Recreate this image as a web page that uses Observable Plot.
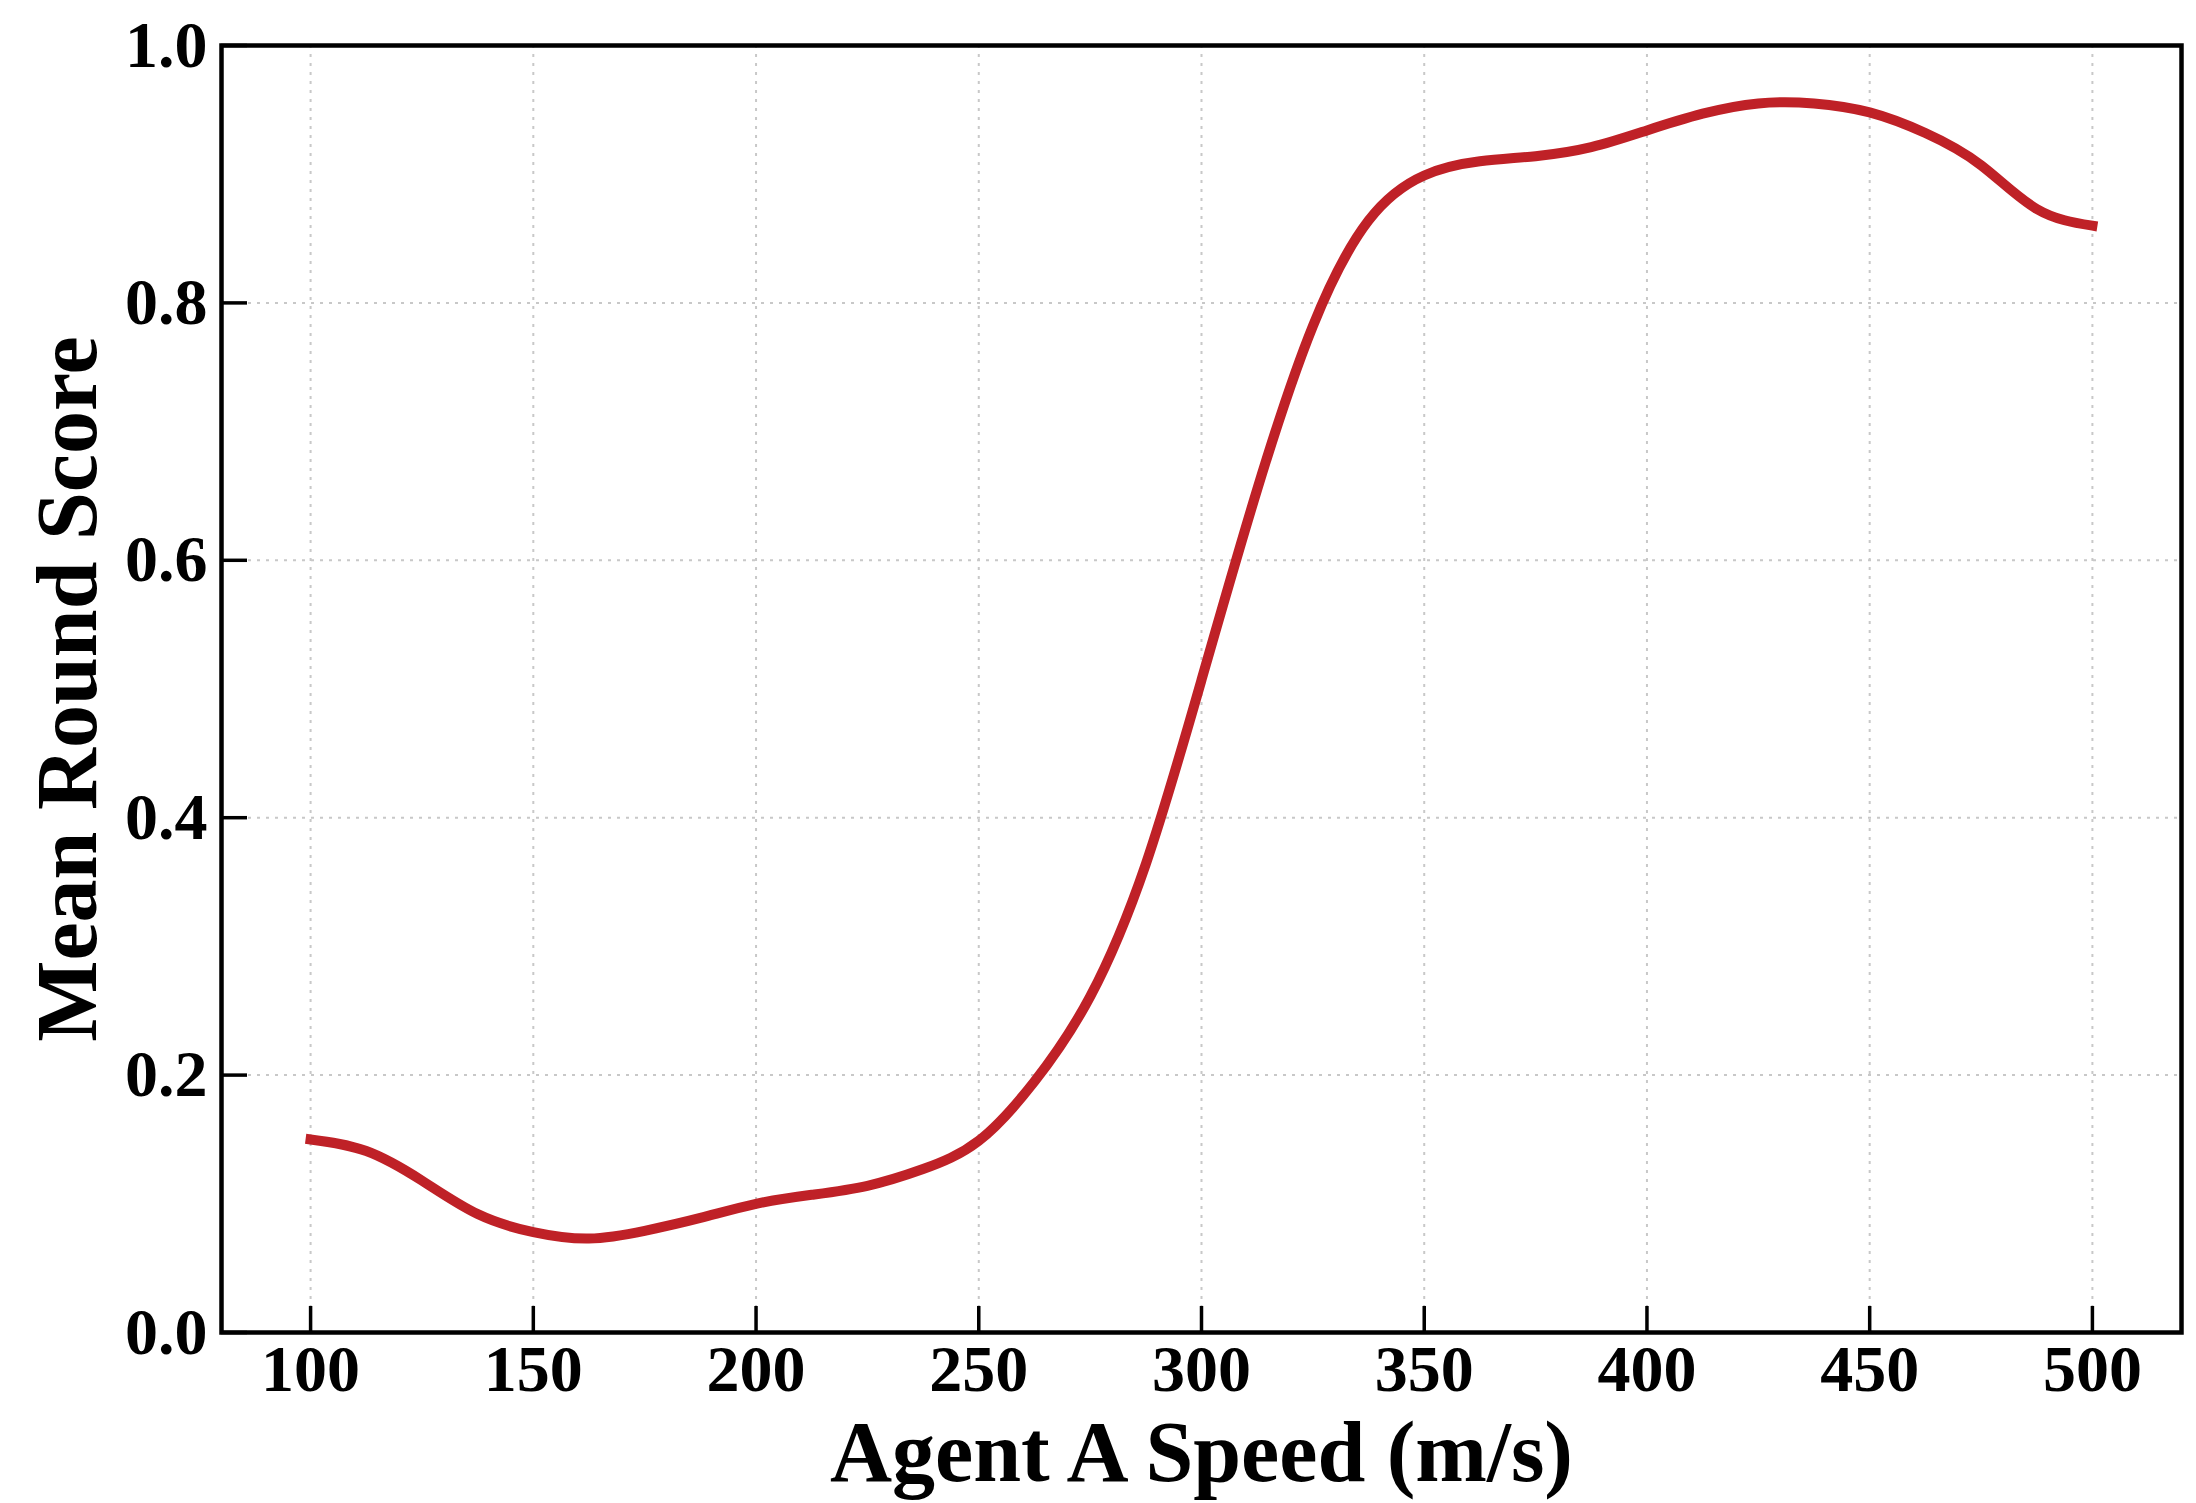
<!DOCTYPE html>
<html>
<head>
<meta charset="utf-8">
<script src="https://cdn.jsdelivr.net/npm/d3@7"></script>
<script src="https://cdn.jsdelivr.net/npm/@observablehq/plot@0.6"></script>
<style>
  html, body { margin: 0; padding: 0; background: #fff; }
  #chart svg { display: block; }
</style>
</head>
<body>
<div id="chart"></div>
<script>
// Data
const speeds = [100, 112.5, 125, 137.5, 150, 162.5, 175, 187.5, 200, 212.5, 225, 237.5,
                250, 262.5, 275, 287.5, 300, 312.5, 325, 337.5, 350, 362.5, 375, 387.5,
                400, 412.5, 425, 437.5, 450, 462.5, 475, 487.5, 500];
const scores = [0.150, 0.141, 0.118, 0.092, 0.078, 0.073, 0.079, 0.089, 0.100, 0.107, 0.114, 0.127,
                0.149, 0.195, 0.261, 0.364, 0.507, 0.655, 0.782, 0.864, 0.899, 0.910, 0.914, 0.921,
                0.934, 0.947, 0.955, 0.955, 0.948, 0.932, 0.907, 0.873, 0.860];
const xTicks = [100, 150, 200, 250, 300, 350, 400, 450, 500];
const yTicks = [0.0, 0.2, 0.4, 0.6, 0.8, 1.0];
const xLabel = "Agent A Speed (m/s)";
const yLabel = "Mean Round Score";

const data = speeds.map((s, i) => ({speed: s, score: scores[i]}));

const W = 2196, H = 1503;
const mL = 221, mR = 15, mT = 45, mB = 171;
const plotW = W - mL - mR, plotH = H - mT - mB;
const tickLen = 26;
const font = "'Liberation Serif', 'Times New Roman', serif";

const chart = Plot.plot({
  width: W,
  height: H,
  marginLeft: mL,
  marginRight: mR,
  marginTop: mT,
  marginBottom: mB,
  style: {fontFamily: font, fontWeight: "bold", background: "#fff", color: "#000"},
  x: {domain: [80, 520], axis: null},
  y: {domain: [0, 1], axis: null},
  marks: [
    Plot.gridX(xTicks, {stroke: "#c8c8c8", strokeOpacity: 1, strokeWidth: 2, strokeDasharray: "3,6"}),
    Plot.gridY(yTicks.slice(1, -1), {stroke: "#c8c8c8", strokeOpacity: 1, strokeWidth: 2, strokeDasharray: "3,6"}),
    Plot.line(data, {x: "speed", y: "score", stroke: "#bf2127", strokeWidth: 10,
                     curve: "natural", strokeLinecap: "square", strokeLinejoin: "round"}),
    // inward ticks
    Plot.tickX(xTicks, {x: d => d, stroke: "#000", strokeWidth: 3.5, insetTop: plotH - tickLen}),
    Plot.tickY(yTicks, {y: d => d, stroke: "#000", strokeWidth: 3.5, insetRight: plotW - tickLen}),
    Plot.frame({stroke: "#000", strokeWidth: 4.5}),
    Plot.axisX(xTicks, {tickSize: 0, tickPadding: 12, fontSize: 66, fontWeight: "bold",
                        tickFormat: d => String(d), label: null}),
    Plot.axisY(yTicks, {tickSize: 0, tickPadding: 14, fontSize: 66, fontWeight: "bold",
                        tickFormat: d => d.toFixed(1), label: null}),
    Plot.text([xLabel], {text: d => d, frameAnchor: "bottom", dy: 148, lineAnchor: "bottom",
                         textAnchor: "middle", fontSize: 86, fontWeight: "bold", fill: "#000"}),
    Plot.text([yLabel], {text: d => d, frameAnchor: "left", dx: -126, rotate: -90, lineAnchor: "bottom",
                         textAnchor: "middle", fontSize: 86, fontWeight: "bold", fill: "#000"})
  ]
});
document.getElementById("chart").appendChild(chart);
</script>
</body>
</html>
